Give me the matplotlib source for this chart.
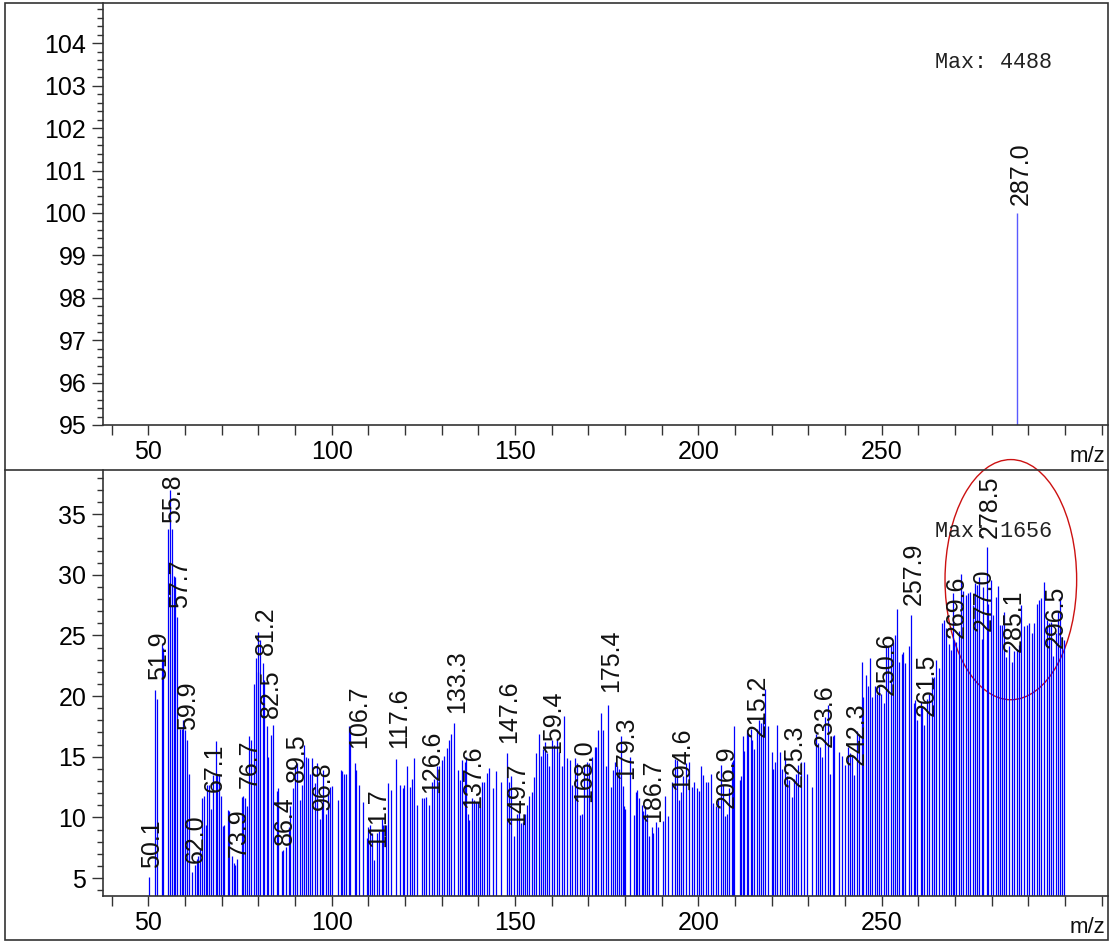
import numpy as np
import matplotlib
matplotlib.use("Agg")
import matplotlib.pyplot as plt
from matplotlib.patches import Ellipse, Rectangle
from matplotlib.lines import Line2D

plt.rcParams['font.family'] = ['Liberation Sans', 'DejaVu Sans']

# ── data ─────────────────────────────────────────────────────────────────────
# upper spectrum (single ion)
top_mz = [287.0]
top_int = [100.0]

# lower spectrum, relative intensity
mz_050 = [50.1, 51.9, 52.3, 53.6, 53.9, 55.3, 55.8, 56.5, 56.9, 57.2, 57.7, 58.6,
          59.1, 59.4, 59.9, 60.6, 61.0, 62.0, 62.7, 63.2, 63.6, 64.0, 64.6, 65.2,
          65.8, 66.1, 66.5, 67.1, 67.7, 68.3, 68.8, 69.3, 69.7, 70.3, 70.7, 71.6,
          72.0, 72.7, 73.2, 73.6, 74.1, 75.4, 75.9, 76.2, 76.8, 77.4, 77.9, 78.8,
          79.3, 79.8, 80.0, 80.4, 81.2, 81.5, 82.3, 82.7, 83.3, 83.9, 85.0, 85.4,
          86.3, 86.8, 87.4, 88.2, 88.6, 89.5, 90.0, 90.4, 91.2, 91.8, 92.5, 93.0,
          93.6, 94.1, 94.7, 95.4, 95.9, 96.8, 97.3, 97.7, 98.5, 99.1, 99.5]
int_050 = [5.1, 20.5, 19.8, 24.3, 24.0, 33.8, 37.0, 33.8, 29.9, 29.8, 26.5, 17.3,
           17.3, 18.0, 17.2, 16.4, 13.6, 5.5, 6.1, 6.6, 6.8, 7.4, 11.6, 11.8,
           9.4, 12.7, 12.7, 10.7, 13.5, 16.3, 13.5, 13.6, 11.8, 9.3, 9.4, 10.6,
           10.5, 6.8, 6.2, 6.1, 6.6, 11.7, 11.8, 11.6, 10.9, 16.7, 16.4, 21.0,
           23.1, 22.0, 25.3, 24.6, 22.7, 21.3, 17.5, 15.0, 16.8, 17.6, 12.2, 12.4,
           7.2, 7.3, 7.6, 9.2, 10.9, 12.4, 14.3, 14.5, 11.4, 12.7, 16.0, 15.0,
           14.9, 13.6, 14.9, 12.8, 14.5, 9.9, 11.2, 13.9, 10.3, 12.2, 12.5]

mz_100 = [100.1, 101.6, 102.4, 102.9, 103.3, 103.8, 104.7, 105.0, 106.2, 106.7,
          107.5, 108.4, 109.5, 110.0, 110.4, 110.9, 111.6, 112.3, 112.9, 113.6,
          114.1, 114.7, 115.4, 116.1, 117.5, 118.6, 119.3, 119.8, 120.6, 121.2,
          121.8, 122.3, 123.3, 124.5, 125.2, 125.7, 126.5, 127.2, 128.0, 128.6,
          129.3, 130.0, 130.7, 131.3, 132.0, 132.5, 133.3, 134.5, 135.0, 135.6,
          136.2, 136.5, 137.1, 137.4, 138.2, 138.8, 139.3, 140.0, 140.5, 141.1,
          141.6, 142.3, 143.0, 143.9, 144.8, 146.1, 147.7, 148.4, 148.9, 149.8]
int_100 = [12.6, 11.4, 13.9, 13.8, 13.6, 13.6, 17.5, 17.3, 14.5, 13.9,
           12.7, 11.3, 8.3, 9.2, 9.4, 8.7, 6.5, 8.7, 8.9, 9.9,
           9.4, 9.4, 12.8, 12.3, 14.8, 12.7, 12.4, 12.7, 14.2, 12.5,
           13.2, 14.9, 11.0, 11.6, 11.6, 11.7, 11.0, 12.9, 13.2, 14.2,
           14.2, 14.7, 15.1, 15.7, 16.4, 16.9, 17.8, 13.9, 13.1, 14.7,
           14.6, 15.0, 10.3, 9.8, 11.6, 11.4, 11.3, 11.3, 11.7, 12.9,
           12.9, 13.7, 14.1, 12.4, 13.8, 12.9, 15.3, 12.9, 13.4, 8.5]

mz_150 = [150.4, 151.1, 151.6, 152.1, 152.7, 153.3, 153.9, 154.5, 155.2, 155.8,
          156.4, 157.1, 157.7, 158.1, 158.6, 159.3, 160.0, 160.7, 161.3, 162.0,
          162.9, 163.4, 164.2, 165.0, 165.5, 166.3, 167.0, 167.7, 168.2, 168.8,
          169.5, 170.2, 171.0, 171.7, 172.1, 172.7, 173.3, 174.0, 174.8, 175.4,
          176.2, 176.8, 177.3, 177.7, 178.3, 178.9, 179.3, 179.7, 180.1, 181.2,
          182.3, 182.9, 183.3, 183.9, 184.5, 185.0, 185.4, 186.1, 186.6, 187.2,
          187.7, 188.4, 189.1, 190.2, 191.0, 191.8, 192.9, 193.5, 194.1, 194.7,
          195.2, 195.9, 196.6, 197.4, 198.2, 198.8, 199.5]
int_150 = [10.3, 10.5, 9.5, 9.6, 10.3, 11.0, 11.8, 12.1, 13.3, 15.3,
           16.9, 15.1, 15.6, 16.2, 15.3, 14.2, 16.4, 16.0, 16.4, 15.4,
           14.2, 18.4, 14.9, 14.7, 12.7, 14.9, 14.5, 10.2, 10.3, 14.3,
           14.6, 14.5, 15.0, 15.8, 15.8, 17.2, 18.6, 17.2, 14.2, 19.3,
           12.5, 13.9, 14.6, 14.2, 14.0, 16.7, 12.6, 10.9, 10.7, 15.0,
           10.2, 12.1, 12.3, 11.6, 11.0, 10.5, 10.9, 10.3, 8.5, 9.2,
           8.7, 9.6, 9.2, 9.7, 11.8, 10.1, 12.9, 14.8, 14.7, 11.4,
           12.1, 13.4, 14.5, 14.6, 12.5, 12.9, 12.4]

mz_200 = [200.1, 200.7, 201.3, 202.0, 202.7, 203.3, 204.1, 204.7, 205.2, 206.1,
          206.6, 207.2, 207.7, 208.3, 209.1, 209.5, 209.8, 211.2, 211.5, 212.1,
          212.5, 213.2, 213.6, 214.2, 214.7, 215.2, 215.9, 216.5, 217.1, 217.7,
          218.2, 218.9, 220.0, 220.4, 221.0, 221.5, 222.2, 222.9, 223.6, 224.2,
          224.8, 225.4, 226.0, 226.6, 227.2, 228.0, 228.9, 229.7, 230.9, 232.0,
          232.6, 233.1, 233.8, 234.5, 235.2, 236.0, 236.6, 237.1, 238.4, 239.2,
          240.0, 240.9, 241.3, 242.0, 242.5, 243.2, 243.8, 244.5, 245.0, 245.6,
          246.2, 246.8, 247.4, 248.2, 248.6, 249.2, 249.8]
int_200 = [12.2, 14.2, 13.5, 12.9, 12.9, 13.6, 11.2, 10.9, 11.4, 14.3,
           12.7, 10.1, 10.3, 12.4, 14.6, 14.7, 17.5, 13.1, 13.4, 16.7,
           15.5, 17.2, 16.8, 17.3, 16.4, 15.6, 17.3, 18.0, 17.8, 18.3,
           20.6, 17.5, 15.4, 14.0, 14.6, 17.6, 15.4, 14.0, 15.0, 13.4,
           13.1, 11.7, 13.2, 13.6, 14.3, 14.6, 14.6, 13.6, 12.5, 16.9,
           16.1, 15.8, 15.0, 18.3, 19.3, 13.6, 16.7, 16.8, 15.4, 15.1,
           14.3, 15.8, 15.3, 15.1, 13.5, 17.1, 16.9, 22.8, 19.9, 21.7,
           20.8, 23.1, 19.9, 20.8, 20.2, 20.8, 20.2]

mz_250 = [250.6, 251.1, 251.8, 252.4, 253.0, 253.6, 254.2, 254.8, 255.5, 255.9,
          256.4, 257.5, 258.1, 258.8, 259.1, 259.5, 260.6, 261.1, 261.6, 262.2,
          263.0, 263.6, 264.2, 264.8, 265.7, 266.3, 267.0, 267.5, 268.2, 268.8,
          269.3, 269.7, 270.2, 271.0, 271.5, 272.2, 272.9, 273.5, 274.1, 274.8,
          275.3, 275.9, 276.6, 277.2, 277.7, 278.6, 279.1, 279.8, 280.4, 281.1,
          281.6, 282.2, 282.8, 283.3, 284.0, 284.8, 285.4, 286.1, 286.8, 287.5,
          288.1, 288.8, 289.5, 290.1, 290.9, 291.5, 292.2, 292.9, 293.5, 294.3,
          295.0, 295.7, 296.2, 296.8, 297.4, 298.0, 298.6, 299.2, 299.7]
int_250 = [19.4, 24.2, 24.1, 24.1, 24.5, 25.0, 27.2, 22.8, 23.5, 23.6,
           22.7, 24.1, 26.7, 19.4, 19.7, 18.0, 19.5, 19.1, 17.6, 19.8,
           20.2, 21.6, 21.6, 23.0, 22.3, 26.0, 26.3, 25.6, 24.3, 23.8,
           28.5, 24.6, 24.5, 25.4, 30.1, 28.7, 28.3, 28.5, 28.6, 27.5,
           29.3, 29.2, 29.8, 24.7, 29.0, 32.3, 27.6, 29.6, 26.7, 28.2,
           29.1, 25.9, 25.9, 26.9, 23.2, 24.1, 22.8, 23.7, 23.9, 24.2,
           27.5, 25.8, 25.9, 26.0, 25.2, 26.0, 27.6, 27.9, 28.1, 29.4,
           26.3, 26.0, 26.1, 23.3, 25.2, 26.9, 28.2, 24.9, 24.6]

# peak labels: m/z text and the height of the text foot
label_mz = [50.1, 51.9, 55.8, 57.7, 59.9, 62.0, 67.1, 73.9, 76.7, 81.2, 82.5, 86.4,
            89.5, 96.8, 106.7, 111.7, 117.6, 126.6, 133.3, 137.6, 147.6, 149.7,
            159.4, 168.0, 175.4, 179.3, 186.7, 194.6, 206.9, 215.2, 225.3, 233.6,
            242.3, 250.6, 257.9, 261.5, 269.6, 277.0, 278.5, 285.1, 296.5]
label_y = [5.8, 21.3, 34.3, 27.3, 17.2, 6.2, 12.1, 6.7, 12.4, 23.4, 18.2, 7.7,
           12.9, 10.6, 15.7, 7.6, 15.7, 12.0, 18.6, 10.8, 16.1, 9.4,
           15.3, 11.3, 20.3, 13.2, 9.6, 12.3, 10.8, 16.6, 12.5, 15.8,
           14.3, 20.1, 27.5, 18.4, 24.8, 25.4, 33.0, 23.6, 24.0]

max_top = 4488
max_bottom = 1656

mz_all = mz_050 + mz_100 + mz_150 + mz_200 + mz_250
int_all = int_050 + int_100 + int_150 + int_200 + int_250

# ── figure ───────────────────────────────────────────────────────────────────
W, H = 1118, 947
fig = plt.figure(figsize=(W / 100, H / 100), dpi=100)

def px_box(left, top, right, bottom):
    return [left / W, (H - bottom) / H, (right - left) / W, (bottom - top) / H]

ax1 = fig.add_axes(px_box(103, 3, 1108, 425))
ax2 = fig.add_axes(px_box(103, 470, 1108, 896))

BLUE = "#0000ff"
TXT = "#111111"
LAB_FS = 18
TICK_FS = 18

for ax in (ax1, ax2):
    ax.set_xlim(37.6, 311.7)
    ax.spines["top"].set_visible(False)
    ax.spines["right"].set_visible(False)
    for s in ("left", "bottom"):
        ax.spines[s].set_color("#333333")
        ax.spines[s].set_linewidth(1.2)
    ax.set_xticks(np.arange(40, 311, 10))
    ax.set_xticklabels([str(t) if (t % 50 == 0 and t <= 250) else "" for t in range(40, 311, 10)])
    ax.tick_params(axis="x", direction="out", length=7, width=1, color="#333333",
                   labelsize=TICK_FS, pad=4)
    ax.tick_params(axis="y", which="major", direction="out", length=8, width=1,
                   color="#333333", labelsize=TICK_FS, pad=4)
    ax.tick_params(axis="y", which="minor", direction="out", length=4.5, width=1,
                   color="#333333")
    ax.text(0.98, -0.075, "m/z", transform=ax.transAxes, ha="center", va="center",
            fontsize=16, color=TXT)

# upper panel
ax1.set_ylim(95, 104.95)
ax1.set_yticks(np.arange(95, 105, 1))
ax1.set_yticks(np.arange(95, 105, 0.2), minor=True)
ax1.vlines(top_mz, 0, top_int, colors="#5a5aff", linewidth=1.0)
for m, v in zip(top_mz, top_int):
    ax1.text(m + 0.9, v + 0.19, f"{m:.1f}", rotation=90, ha="center", va="bottom",
             fontsize=LAB_FS, color=TXT)
ax1.text(0.828, 0.86, f"Max: {max_top}", transform=ax1.transAxes, ha="left",
         va="center", fontsize=15.7, family="Liberation Mono", color="#222222")

# lower panel
ax2.set_ylim(3.52, 38.64)
ax2.set_yticks(np.arange(5, 36, 5))
ax2.set_yticks(np.arange(4, 39, 1), minor=True)
ax2.vlines(mz_all, 0, int_all, colors=BLUE, linewidth=0.9)
for m, y in zip(label_mz, label_y):
    ax2.text(m + 0.85, y, f"{m:.1f}", rotation=90, ha="center", va="bottom",
             fontsize=LAB_FS, color=TXT, clip_on=False)
ax2.text(0.828, 0.855, f"Max: {max_bottom}", transform=ax2.transAxes, ha="left",
         va="center", fontsize=15.7, family="Liberation Mono", color="#222222")
ax2.add_patch(Ellipse((285.2, 29.6), 35.9, 19.8, fill=False, edgecolor="#cc1111",
                      linewidth=1.0, clip_on=False))

# outer frame and divider
fig.add_artist(Rectangle((5 / W, (H - 940) / H), 1103 / W, 937 / H, fill=False,
                         edgecolor="#333333", linewidth=1.2, transform=fig.transFigure))
fig.add_artist(Line2D([5 / W, 1108 / W], [(H - 470) / H] * 2, color="#333333",
                      linewidth=1.2, transform=fig.transFigure))

fig.savefig("out.png", dpi=100)
